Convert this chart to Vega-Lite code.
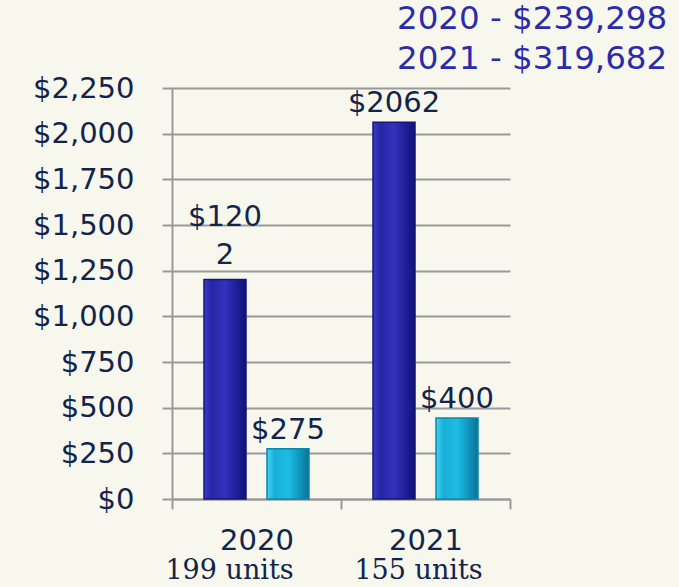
{
  "$schema": "https://vega.github.io/schema/vega-lite/v6.json",
  "autosize": "none",
  "width": 338,
  "height": 411,
  "padding": {"left": 172, "top": 88, "right": 169, "bottom": 88},
  "background": "#f7f7ee",
  "title": {
    "text": ["2020 - $239,298", "2021  - $319,682"],
    "anchor": "start",
    "frame": "group",
    "align": "left",
    "dx": 225,
    "offset": -1,
    "font": "DejaVu Sans",
    "fontSize": 32.5,
    "fontWeight": "normal",
    "color": "#2b2bab",
    "lineHeight": 40
  },
  "config": {
    "view": {"stroke": null},
    "axis": {
      "labelFont": "DejaVu Sans",
      "labelColor": "#13244a",
      "labelFontSize": 29,
      "domainColor": "#999999",
      "domainWidth": 2,
      "tickColor": "#999999",
      "tickWidth": 2,
      "gridColor": "#999999",
      "gridWidth": 2,
      "title": null
    }
  },
  "data": {
    "values": [
      {"year": "2020", "series": "A", "value": 1202, "label": ["$120", "2"]},
      {"year": "2020", "series": "B", "value": 275, "label": ["$275"]},
      {"year": "2021", "series": "A", "value": 2062, "label": ["$2062"]},
      {"year": "2021", "series": "B", "value": 443, "label": ["$400"]}
    ]
  },
  "encoding": {
    "x": {"field": "year", "type": "nominal", "scale": {"paddingInner": 0, "paddingOuter": 0}},
    "xOffset": {"field": "series", "type": "nominal", "scale": {"domain": ["A", "B"], "paddingInner": 0.3333, "paddingOuter": 0.508}},
    "y": {"field": "value", "type": "quantitative", "scale": {"domain": [0, 2250], "nice": false}}
  },
  "layer": [
    {
      "transform": [{"filter": "datum.series == 'A'"}],
      "mark": {
        "type": "bar",
        "stroke": "#16167a",
        "strokeWidth": 1.5,
        "color": {
          "gradient": "linear", "x1": 0, "x2": 1, "y1": 0, "y2": 0,
          "stops": [
            {"offset": 0, "color": "#3c3cc8"},
            {"offset": 0.18, "color": "#2626a8"},
            {"offset": 0.5, "color": "#3232bd"},
            {"offset": 0.82, "color": "#1c1c92"},
            {"offset": 1, "color": "#121275"}
          ]
        }
      },
      "encoding": {
        "x": {
          "field": "year", "type": "nominal",
          "axis": {
            "orient": "bottom", "labelAngle": 0, "tickBand": "extent",
            "tickSize": 10, "labelPadding": 17, "grid": false
          }
        },
        "y": {
          "field": "value", "type": "quantitative",
          "axis": {
            "values": [0, 250, 500, 750, 1000, 1250, 1500, 1750, 2000, 2250],
            "format": "$,.0f", "tickSize": 10, "labelPadding": 28, "grid": true
          }
        }
      }
    },
    {
      "transform": [{"filter": "datum.series == 'B'"}],
      "mark": {
        "type": "bar",
        "stroke": "#0a86ad",
        "strokeWidth": 1.5,
        "color": {
          "gradient": "linear", "x1": 0, "x2": 1, "y1": 0, "y2": 0,
          "stops": [
            {"offset": 0, "color": "#45d3f3"},
            {"offset": 0.18, "color": "#17aed8"},
            {"offset": 0.5, "color": "#1fbde5"},
            {"offset": 0.82, "color": "#0e8fb6"},
            {"offset": 1, "color": "#0a7396"}
          ]
        }
      },
      "encoding": {
        "x": {"field": "year", "type": "nominal", "axis": null}
      }
    },
    {
      "transform": [{"filter": "length(datum.label) == 1"}],
      "mark": {
        "type": "text",
        "font": "DejaVu Sans",
        "fontSize": 29,
        "color": "#13244a",
        "baseline": "bottom",
        "align": "center",
        "dy": -4,
        "lineHeight": 38
      },
      "encoding": {
        "x": {
          "field": "year", "type": "nominal",
          "axis": {
            "orient": "bottom", "labelAngle": 0, "domain": false, "ticks": false,
            "labelPadding": 58,
            "labelOffset": {"condition": {"test": "datum.label == '2020'", "value": -27}, "value": -7},
            "grid": false,
            "labelFont": "DejaVu Serif", "labelFontSize": 27,
            "labelExpr": "datum.label == '2020' ? '199 units' : '155 units'"
          }
        },
        "text": {"field": "label"}
      }
    },
    {
      "transform": [{"filter": "length(datum.label) > 1"}],
      "mark": {
        "type": "text",
        "font": "DejaVu Sans",
        "fontSize": 29,
        "color": "#13244a",
        "baseline": "bottom",
        "align": "center",
        "dy": -47,
        "lineHeight": 38
      },
      "encoding": {
        "x": {"field": "year", "type": "nominal", "axis": null},
        "text": {"field": "label"}
      }
    }
  ],
  "resolve": {"axis": {"x": "independent"}}
}
